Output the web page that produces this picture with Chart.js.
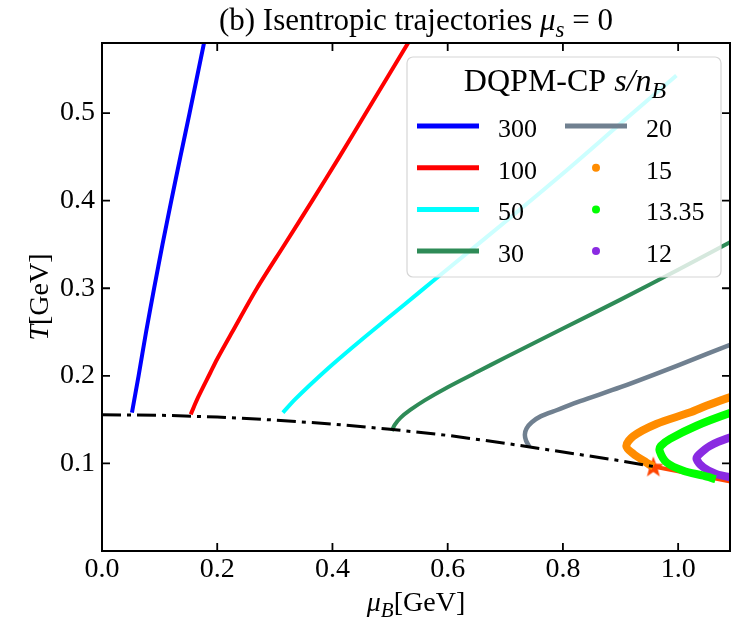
<!DOCTYPE html>
<html>
<head>
<meta charset="utf-8">
<script src="https://cdn.jsdelivr.net/npm/chart.js@4.4.0/dist/chart.umd.min.js"></script>
<style>
  html, body { margin: 0; padding: 0; background: #fff; }
</style>
</head>
<body>
<canvas id="isentropChart" width="731" height="626"></canvas>
<script>
// Ticks
const xTicks = [0.0, 0.2, 0.4, 0.6, 0.8, 1.0];
const yTicks = [0.1, 0.2, 0.3, 0.4, 0.5];

// Crossover line (dash-dot) up to the critical point
const muCross = [0.0, 0.1, 0.2, 0.3, 0.4, 0.5, 0.6, 0.7, 0.8, 0.9, 0.957];
const tCross = [0.1555, 0.155, 0.153, 0.1495, 0.145, 0.139, 0.132, 0.123, 0.113, 0.103, 0.0965];

// First order line, from the CEP to the right
const muFirst = [0.957, 1.02, 1.12];
const tFirst = [0.0965, 0.0885, 0.0755];

// Critical end point
const muCep = [0.957];
const tCep = [0.0965];

// Isentropes s/n_B
const mu300 = [0.052, 0.0635, 0.0765, 0.0905, 0.105, 0.1203, 0.136, 0.152, 0.178, 0.1835];
const t300 = [0.158, 0.200, 0.250, 0.300, 0.350, 0.400, 0.450, 0.500, 0.583, 0.600];

const mu100 = [0.154, 0.1665, 0.188, 0.1995, 0.226, 0.269, 0.317, 0.365, 0.412, 0.458, 0.534, 0.550];
const t100 = [0.156, 0.175, 0.2035, 0.2187, 0.250, 0.300, 0.350, 0.400, 0.450, 0.500, 0.583, 0.600];

const mu50 = [0.314, 0.335, 0.360, 0.400, 0.450, 0.500, 0.550, 0.600, 0.700, 0.800, 0.900, 0.997];
const t50 = [0.158, 0.173, 0.189, 0.213, 0.241, 0.268, 0.295, 0.322, 0.376, 0.431, 0.488, 0.543];

const mu30 = [0.503, 0.508, 0.518, 0.535, 0.560, 0.600, 0.650, 0.700, 0.800, 0.900, 1.000, 1.100, 1.120];
const t30 = [0.137, 0.144, 0.152, 0.161, 0.172, 0.187, 0.204, 0.221, 0.254, 0.287, 0.321, 0.356, 0.363];

const mu20 = [0.742, 0.736, 0.734, 0.737, 0.746, 0.762, 0.790, 0.830, 0.900, 1.000, 1.100, 1.120];
const t20 = [0.119, 0.126, 0.133, 0.140, 0.147, 0.154, 0.161, 0.171, 0.187, 0.212, 0.238, 0.243];

const mu15 = [1.120, 1.092, 1.050, 1.020, 0.962, 0.922, 0.910, 0.922, 0.945, 0.957];
const t15 = [0.181, 0.176, 0.166, 0.158, 0.145, 0.131, 0.120, 0.111, 0.101, 0.0965];

const mu1335 = [1.120, 1.092, 1.032, 0.986, 0.970, 0.968, 0.980, 1.009, 1.044, 1.065];
const t1335 = [0.163, 0.158, 0.143, 0.128, 0.120, 0.114, 0.101, 0.0916, 0.086, 0.082];

const mu12 = [1.120, 1.092, 1.055, 1.036, 1.032, 1.044, 1.066, 1.092, 1.120];
const t12 = [0.134, 0.130, 0.120, 0.110, 0.105, 0.0955, 0.088, 0.084, 0.081];

// Legend
const legendLabels = ['300', '100', '50', '30', '20', '15', '13.35', '12'];
const legendColors = ['#0000ff', '#ff0000', '#00ffff', '#2e8b57', '#708090', '#ff8c00', '#00ff00', '#8a2be2'];
const legendKinds = ['line', 'line', 'line', 'line', 'line', 'dot', 'dot', 'dot'];

const FONT = '"Liberation Serif", "DejaVu Serif", serif';

function pares(xs, ys) {
    return xs.map((x, i) => ({ x: x, y: ys[i] }));
}

// Filled five point star for the CEP marker
function criarEstrela(size, color) {
    const c = document.createElement('canvas');
    c.width = size;
    c.height = size;
    const g = c.getContext('2d');
    const r = size / 2, ri = r * 0.42;
    g.beginPath();
    for (let i = 0; i < 10; i++) {
        const a = -Math.PI / 2 + i * Math.PI / 5;
        const rr = i % 2 === 0 ? r : ri;
        g.lineTo(r + rr * Math.cos(a), r + rr * Math.sin(a) + 1);
    }
    g.closePath();
    g.fillStyle = color;
    g.fill();
    return c;
}

// Text with italic parts and subscripts
function textoRico(ctx, parts, x, y, size, align) {
    const fontOf = p => `${p.it ? 'italic ' : ''}${p.sub ? Math.round(size * 0.75) : size}px ${FONT}`;
    const widths = parts.map(p => { ctx.font = fontOf(p); return ctx.measureText(p.t).width; });
    const total = widths.reduce((a, b) => a + b, 0);
    let cx = align === 'center' ? x - total / 2 : x;
    ctx.textAlign = 'left';
    ctx.textBaseline = 'alphabetic';
    ctx.fillStyle = '#000';
    parts.forEach((p, i) => {
        ctx.font = fontOf(p);
        ctx.fillText(p.t, cx, y + (p.sub ? size * 0.22 : 0));
        cx += widths[i];
    });
}

function linha(data, color, width, extra) {
    return Object.assign({
        data: data,
        showLine: true,
        borderColor: color,
        backgroundColor: color,
        borderWidth: width,
        pointRadius: 0,
        tension: 0.3,
        clip: 0
    }, extra || {});
}

const datasets = [
    linha(pares(muCross, tCross), '#000', 3, { borderDash: [19, 6, 4, 6], tension: 0 }),
    linha(pares(mu300, t300), legendColors[0], 4),
    linha(pares(mu100, t100), legendColors[1], 4),
    linha(pares(mu50, t50), legendColors[2], 4),
    linha(pares(mu30, t30), legendColors[3], 4),
    linha(pares(mu20, t20), legendColors[4], 4.5),
    linha(pares(mu15, t15), legendColors[5], 8),
    linha(pares(mu1335, t1335), legendColors[6], 8),
    linha(pares(mu12, t12), legendColors[7], 8),
    linha(pares(muFirst, tFirst), '#ff4500', 4, { tension: 0 }),
    {
        data: pares(muCep, tCep),
        showLine: false,
        pointStyle: criarEstrela(22, '#ff4500'),
        pointRadius: 11,
        clip: 0
    }
];

// Title, axis labels, legend and inward ticks
const decoracao = {
    id: 'decoracao',
    afterDatasetsDraw(chart) {
        const ctx = chart.ctx;
        // legend box
        const bx = 407, by = 57, bw = 314, bh = 220, rad = 6;
        ctx.save();
        ctx.beginPath();
        ctx.roundRect(bx, by, bw, bh, rad);
        ctx.fillStyle = 'rgba(255,255,255,0.8)';
        ctx.fill();
        ctx.strokeStyle = '#d6d6d6';
        ctx.lineWidth = 1.2;
        ctx.stroke();
        textoRico(ctx, [{ t: 'DQPM-CP ' }, { t: 's/n', it: true }, { t: 'B', it: true, sub: true }], 565, 91, 32, 'center');
        legendLabels.forEach((lab, i) => {
            const col = Math.floor(i / 4), row = i % 4;
            const x0 = col === 0 ? 417 : 565;
            const y0 = 126 + row * 41.7;
            if (legendKinds[i] === 'line') {
                ctx.beginPath();
                ctx.moveTo(x0, y0);
                ctx.lineTo(x0 + 62, y0);
                ctx.strokeStyle = legendColors[i];
                ctx.lineWidth = 5;
                ctx.stroke();
            } else {
                ctx.beginPath();
                ctx.arc(x0 + 31, y0, 4, 0, Math.PI * 2);
                ctx.fillStyle = legendColors[i];
                ctx.fill();
            }
            ctx.font = `26px ${FONT}`;
            ctx.fillStyle = '#000';
            ctx.textAlign = 'left';
            ctx.textBaseline = 'alphabetic';
            ctx.fillText(lab, x0 + 81, y0 + 11);
        });
        ctx.restore();
    },
    afterDraw(chart) {
        const ctx = chart.ctx;
        const a = chart.chartArea;
        const xs = chart.scales.x, ys = chart.scales.y;
        ctx.save();
        ctx.strokeStyle = '#000';
        ctx.lineWidth = 2;
        // top and right spines
        ctx.beginPath();
        ctx.moveTo(a.left, a.top);
        ctx.lineTo(a.right, a.top);
        ctx.lineTo(a.right, a.bottom);
        ctx.stroke();
        // inward ticks
        ctx.lineWidth = 1.8;
        ctx.beginPath();
        xTicks.forEach(v => {
            const px = xs.getPixelForValue(v);
            ctx.moveTo(px, a.bottom); ctx.lineTo(px, a.bottom - 8);
            ctx.moveTo(px, a.top); ctx.lineTo(px, a.top + 8);
        });
        yTicks.forEach(v => {
            const py = ys.getPixelForValue(v);
            ctx.moveTo(a.left, py); ctx.lineTo(a.left + 8, py);
            ctx.moveTo(a.right, py); ctx.lineTo(a.right - 8, py);
        });
        ctx.stroke();
        // title
        textoRico(ctx, [{ t: '(b) Isentropic trajectories ' }, { t: 'μ', it: true }, { t: 's', it: true, sub: true }, { t: ' = 0' }],
            (a.left + a.right) / 2, 30, 31, 'center');
        // x label
        textoRico(ctx, [{ t: 'μ', it: true }, { t: 'B', it: true, sub: true }, { t: '[GeV]' }], (a.left + a.right) / 2, 611, 28, 'center');
        // y label
        ctx.translate(48, (a.top + a.bottom) / 2);
        ctx.rotate(-Math.PI / 2);
        textoRico(ctx, [{ t: 'T', it: true }, { t: '[GeV]' }], 0, 0, 28, 'center');
        ctx.restore();
    }
};

const ctx = document.getElementById('isentropChart').getContext('2d');
new Chart(ctx, {
    type: 'scatter',
    data: { datasets: datasets },
    options: {
        responsive: false,
        animation: false,
        devicePixelRatio: 1,
        layout: { autoPadding: false, padding: { left: 0, right: 1, top: 43, bottom: 0 } },
        plugins: {
            legend: { display: false },
            tooltip: { enabled: false },
            title: { display: false }
        },
        scales: {
            x: {
                type: 'linear',
                min: 0,
                max: 1.09,
                afterFit: s => { s.height = 75; s.paddingLeft = 0; s.paddingRight = 0; },
                afterBuildTicks: s => { s.ticks = xTicks.map(v => ({ value: v })); },
                grid: { display: false, drawTicks: false },
                border: { display: true, color: '#000', width: 2 },
                ticks: {
                    callback: v => v.toFixed(1),
                    font: { family: FONT, size: 28 },
                    color: '#000',
                    padding: 2,
                    maxRotation: 0,
                    autoSkip: false
                }
            },
            y: {
                type: 'linear',
                min: 0,
                max: 0.58,
                afterFit: s => { s.width = 102; s.paddingTop = 0; s.paddingBottom = 0; },
                afterBuildTicks: s => { s.ticks = yTicks.map(v => ({ value: v })); },
                grid: { display: false, drawTicks: false },
                border: { display: true, color: '#000', width: 2 },
                ticks: {
                    callback: v => v.toFixed(1),
                    font: { family: FONT, size: 28 },
                    color: '#000',
                    padding: 7,
                    autoSkip: false
                }
            }
        }
    },
    plugins: [decoracao]
});
</script>
</body>
</html>
